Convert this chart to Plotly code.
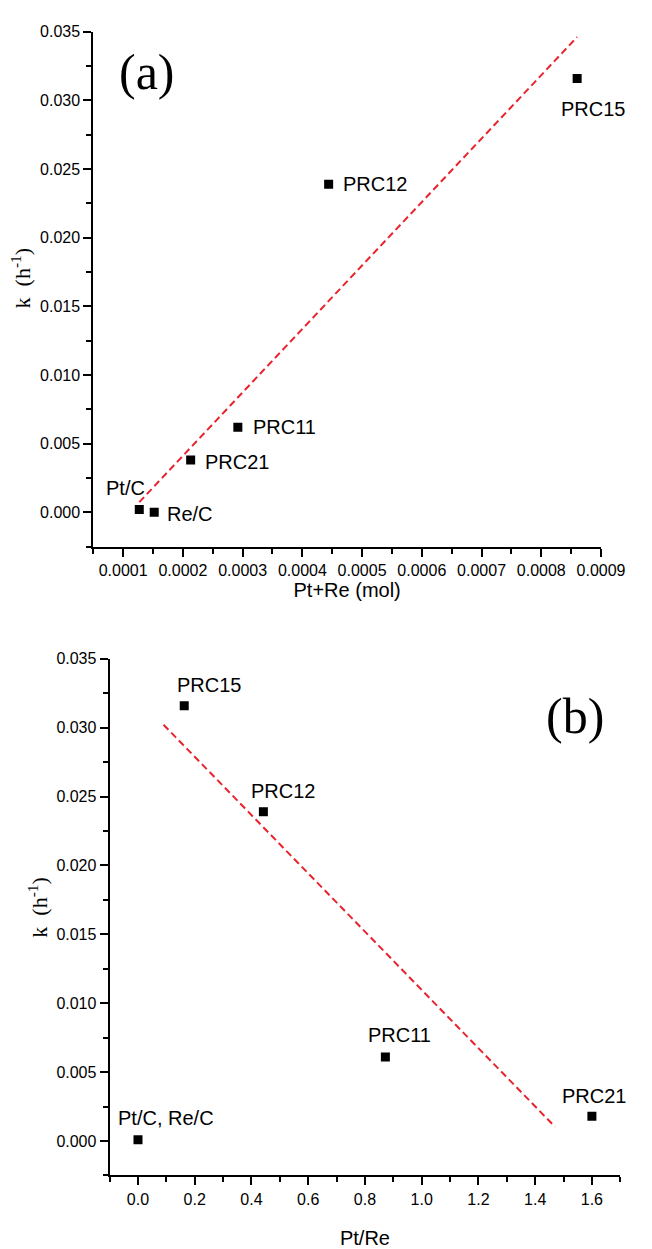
import numpy as np
import plotly.graph_objects as go

# ---------------- data ----------------
# panel (a): k vs Pt+Re (mol)
names_a = ["Pt/C", "Re/C", "PRC21", "PRC11", "PRC12", "PRC15"]
mol_a = [0.000127, 0.000152, 0.000213, 0.000292, 0.000444, 0.000860]
k_a = [0.0002, 0.0000, 0.0038, 0.0062, 0.0239, 0.0316]

# panel (b): k vs Pt/Re
names_b = ["Pt/C, Re/C", "PRC15", "PRC12", "PRC11", "PRC21"]
ratio_b = [0.0, 0.163, 0.442, 0.872, 1.60]
k_b = [0.0001, 0.0316, 0.0239, 0.0061, 0.0018]
fit_b_names = ["PRC15", "PRC12", "PRC11", "PRC21"]
fit_b_xrange = [0.09, 1.47]

x_ticks_a = [0.0001, 0.0002, 0.0003, 0.0004, 0.0005, 0.0006, 0.0007, 0.0008, 0.0009]
x_ticks_b = [0.0, 0.2, 0.4, 0.6, 0.8, 1.0, 1.2, 1.4, 1.6]
y_ticks = [0.000, 0.005, 0.010, 0.015, 0.020, 0.025, 0.030, 0.035]

# label offsets (px): (xshift, yshift, xanchor)
lab_a = {
    "Pt/C": (-14, 21, "center"),
    "Re/C": (11, -2, "left"),
    "PRC21": (12, -2, "left"),
    "PRC11": (13, 0, "left"),
    "PRC12": (12, 0, "left"),
    "PRC15": (16, -30, "center"),
}
lab_b = {
    "Pt/C, Re/C": (28, 22, "center"),
    "PRC15": (25, 21, "center"),
    "PRC12": (20, 21, "center"),
    "PRC11": (14, 22, "center"),
    "PRC21": (2, 20, "center"),
}

W, H = 652, 1249
RED = "#E8232B"
SANS = "Liberation Sans, Arial"
SERIF = "Liberation Serif, Times New Roman, serif"
TICKFONT = dict(family=SANS, size=16, color="black")
TITLEFONT = dict(family=SANS, size=20, color="black")
YTITLEFONT = dict(family=SERIF, size=22, color="black")
LABFONT = dict(family=SANS, size=20, color="black")

fig = go.Figure()

# ---- panel (a) ----
fig.add_trace(go.Scatter(x=mol_a, y=k_a, mode="markers",
                         marker=dict(symbol="square", size=9, color="black"),
                         xaxis="x", yaxis="y", showlegend=False))
sa, ia = np.polyfit(mol_a, k_a, 1)
xa_fit = np.array([min(mol_a), max(mol_a)])
fig.add_trace(go.Scatter(x=xa_fit, y=sa * xa_fit + ia, mode="lines",
                         line=dict(color=RED, width=2, dash="7px,4px"),
                         xaxis="x", yaxis="y", showlegend=False))

# ---- panel (b) ----
fig.add_trace(go.Scatter(x=ratio_b, y=k_b, mode="markers",
                         marker=dict(symbol="square", size=9, color="black"),
                         xaxis="x2", yaxis="y2", showlegend=False))
fx = [ratio_b[names_b.index(n)] for n in fit_b_names]
fy = [k_b[names_b.index(n)] for n in fit_b_names]
sb, ib = np.polyfit(fx, fy, 1)
xb_fit = np.array(fit_b_xrange)
fig.add_trace(go.Scatter(x=xb_fit, y=sb * xb_fit + ib, mode="lines",
                         line=dict(color=RED, width=2, dash="7px,4px"),
                         xaxis="x2", yaxis="y2", showlegend=False))

annotations = []
for n, xv, yv in zip(names_a, mol_a, k_a):
    dx, dy, anc = lab_a[n]
    annotations.append(dict(x=xv, y=yv, xref="x", yref="y", text=n, showarrow=False,
                            xshift=dx, yshift=dy, xanchor=anc, font=LABFONT))
for n, xv, yv in zip(names_b, ratio_b, k_b):
    dx, dy, anc = lab_b[n]
    annotations.append(dict(x=xv, y=yv, xref="x2", yref="y2", text=n, showarrow=False,
                            xshift=dx, yshift=dy, xanchor=anc, font=LABFONT))

annotations.append(dict(x=153 / W, y=1 - 64 / H, xref="paper", yref="paper", text="(a)",
                        showarrow=False, xanchor="center", yanchor="middle",
                        font=dict(family=SERIF, size=50, color="black")))
annotations.append(dict(x=598 / W, y=1 - 713 / H, xref="paper", yref="paper", text="(b)",
                        showarrow=False, xanchor="center", yanchor="middle",
                        font=dict(family=SERIF, size=50, color="black")))

# y-axis titles (rotated text)
YTITLE = "k  (h<sup>-1</sup>)"
annotations.append(dict(x=22 / W, y=1 - 272 / H, xref="paper", yref="paper", text=YTITLE,
                        textangle=-90, showarrow=False, xanchor="center", yanchor="middle",
                        font=YTITLEFONT))
annotations.append(dict(x=40 / W, y=1 - 905 / H, xref="paper", yref="paper", text=YTITLE,
                        textangle=-90, showarrow=False, xanchor="center", yanchor="middle",
                        font=YTITLEFONT))

def xax(domain, rng, ticks, fmt, minor_dt, title, anchor, standoff):
    return dict(domain=domain, range=rng, tickvals=ticks, tickformat=fmt,
                showgrid=False, zeroline=False, showline=True, linecolor="black", linewidth=2,
                ticks="outside", ticklen=8, tickwidth=2, tickcolor="black",
                minor=dict(dtick=minor_dt, tick0=0, ticks="outside", ticklen=5, tickwidth=2, tickcolor="black"),
                tickfont=TICKFONT, ticklabeloverflow="allow",
                title=dict(text=title, font=TITLEFONT, standoff=standoff),
                anchor=anchor, mirror=False)

def yax(domain, anchor):
    return dict(domain=domain, range=[-0.0025, 0.035], tickvals=y_ticks, tickformat=".3f",
                showgrid=False, zeroline=False, showline=True, linecolor="black", linewidth=2,
                ticks="outside", ticklen=8, tickwidth=2, tickcolor="black",
                minor=dict(dtick=0.0025, tick0=0, ticks="outside", ticklen=5, tickwidth=2, tickcolor="black"),
                tickfont=TICKFONT, ticklabeloverflow="allow",
                anchor=anchor, mirror=False)

fig.update_layout(
    width=W, height=H,
    margin=dict(l=0, r=0, t=0, b=0),
    paper_bgcolor="white", plot_bgcolor="white",
    xaxis=xax([97 / W, 625 / W], [0.00005, 0.0009], x_ticks_a, ".4f", 0.00005, "Pt+Re (mol)", "y", 0),
    yaxis=yax([1 - 542 / H, 1 - 24 / H], "x"),
    xaxis2=xax([114 / W, 645 / W], [-0.1, 1.7], x_ticks_b, ".1f", 0.1, "Pt/Re", "y2", 24),
    yaxis2=yax([1 - 1175 / H, 1 - 655 / H], "x2"),
    annotations=annotations,
    showlegend=False,
)

fig.write_html("out.html")
